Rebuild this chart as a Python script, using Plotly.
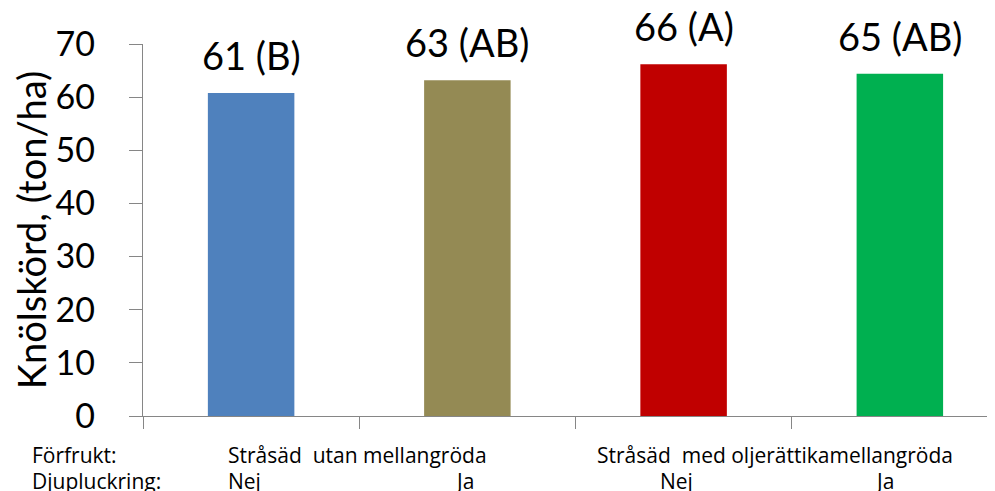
import plotly.graph_objects as go

# ---- data ----
categories = ["Stråsäd utan mellangröda / Nej", "Stråsäd utan mellangröda / Ja",
              "Stråsäd med oljerättikamellangröda / Nej", "Stråsäd med oljerättikamellangröda / Ja"]
yield_values = [60.8, 63.2, 66.2, 64.4]
bar_labels = ["61 (B)", "63 (AB)", "66 (A)", "65 (AB)"]
bar_colors = ["#4F81BD", "#948A54", "#C00000", "#00B050"]
forfrukt_groups = ["Stråsäd  utan mellangröda", "Stråsäd  med oljerättikamellangröda"]
djupluckring_labels = ["Nej", "Ja", "Nej", "Ja"]
row_titles = ["Förfrukt:", "Djupluckring:"]
y_ticks = [0, 10, 20, 30, 40, 50, 60, 70]
y_title = "Knölskörd, (ton/ha)"

FONT = "Lato, 'Open Sans', sans-serif"
SMALL_FONT = "'Open Sans', Lato, sans-serif"
xs = list(range(len(categories)))

fig = go.Figure()
fig.add_trace(go.Bar(
    x=xs, y=yield_values, width=0.40,
    marker=dict(color=bar_colors, line=dict(width=0)),
    hoverinfo="skip", showlegend=False,
))

# value labels above bars
for x, v, t in zip(xs, yield_values, bar_labels):
    fig.add_annotation(x=x, y=v, text=t, showarrow=False, xanchor="center",
                       yanchor="bottom", yshift=13,
                       font=dict(family=FONT, size=38, color="#000000"))

ROW1 = -39
ROW2 = -65
# bottom category text
grp_offsets = [-0.115, 1.59]
for g, off in zip(forfrukt_groups, grp_offsets):
    fig.add_annotation(x=off, y=0, yref="y", text=g, showarrow=False, xanchor="left",
                       yanchor="middle", yshift=ROW1,
                       font=dict(family=SMALL_FONT, size=21, color="#000000"))
dj_offsets = [-0.115, 0.935, 1.88, 2.875]
for lab, off in zip(djupluckring_labels, dj_offsets):
    fig.add_annotation(x=off, y=0, yref="y", text=lab, showarrow=False, xanchor="left",
                       yanchor="middle", yshift=ROW2,
                       font=dict(family=SMALL_FONT, size=21, color="#000000"))
for rt, ys in zip(row_titles, [ROW1, ROW2]):
    fig.add_annotation(x=0, xref="x domain", y=0, yref="y",
                       text=rt, showarrow=False, xanchor="left", yanchor="middle",
                       yshift=ys, xshift=30 - 143,
                       font=dict(family=SMALL_FONT, size=21, color="#000000"))

# the page body adds an 8px offset; size the figure to fill the rest of the window
fig.update_layout(
    width=987, height=483,
    margin=dict(l=135, r=0, t=36, b=75, autoexpand=False),
    paper_bgcolor="white", plot_bgcolor="white",
    font=dict(family=FONT, color="#000000"),
    xaxis=dict(range=[-0.5, 3.44], tickmode="array", tickvals=[-0.5, 0.5, 1.5, 2.5, 3.5],
               showticklabels=False, ticks="outside", ticklen=12, tickcolor="#868686",
               showline=True, linecolor="#868686", linewidth=1.3, showgrid=False,
               zeroline=False, fixedrange=True, automargin=False),
    yaxis=dict(range=[0, 70], tickmode="array", tickvals=y_ticks,
               ticks="outside", ticklen=13, tickcolor="#868686", ticklabelstandoff=27,
               showline=True, linecolor="#868686", linewidth=1.3, showgrid=False,
               zeroline=False, tickfont=dict(family=FONT, size=34, color="#000000"),
               title=dict(text=y_title, font=dict(family=FONT, size=38, color="#000000"),
                          standoff=3),
               fixedrange=True, automargin=False),
    bargap=0.6,
)

fig.write_html("out.html")
